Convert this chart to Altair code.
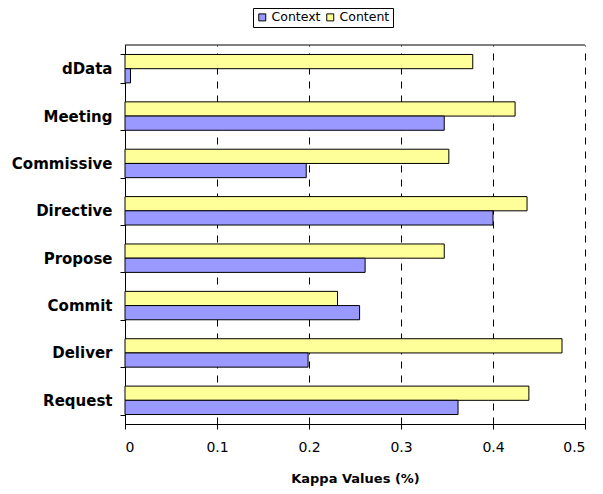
import altair as alt
import pandas as pd

categories = ["dData", "Meeting", "Commissive", "Directive", "Propose", "Commit", "Deliver", "Request"]
content = [0.378, 0.424, 0.352, 0.437, 0.347, 0.231, 0.475, 0.439]
context = [0.006, 0.347, 0.197, 0.400, 0.261, 0.255, 0.199, 0.362]
series_names = ["Context", "Content"]
series_colors = ["#9999FF", "#FFFF99"]
x_ticks = [0, 0.1, 0.2, 0.3, 0.4, 0.5]

rows = []
for c, v_content, v_context in zip(categories, content, context):
    rows.append({"category": c, "series": "Content", "value": v_content})
    rows.append({"category": c, "series": "Context", "value": v_context})
df = pd.DataFrame(rows)

W, H = 460, 379
FONT = "DejaVu Sans"

bars = alt.Chart(df).mark_bar(stroke="black", strokeWidth=1).encode(
    x=alt.X(
        "value:Q",
        scale=alt.Scale(domain=[0, 0.5], nice=False, zero=True),
        axis=alt.Axis(
            values=x_ticks,
            format=".1~f",
            title="Kappa Values (%)",
            grid=True,
            gridDash=[7, 7],
            gridColor="black",
            gridWidth=1,
            gridOpacity=1,
            labelFont=FONT,
            labelFontSize=14,
            labelColor="black",
            labelPadding=11,
            tickSize=5,
            tickColor="black",
            domainColor="black",
            titleFont=FONT,
            titleFontSize=13,
            titleFontWeight="bold",
            titleColor="black",
            titlePadding=18,
        ),
    ),
    y=alt.Y(
        "category:N",
        sort=categories,
        scale=alt.Scale(paddingInner=0.4, paddingOuter=0.2),
        axis=alt.Axis(
            title=None,
            tickBand="extent",
            grid=False,
            labelFont=FONT,
            labelFontSize=15,
            labelFontWeight="bold",
            labelColor="black",
            labelPadding=8,
            tickSize=5,
            tickColor="black",
            domainColor="black",
        ),
    ),
    yOffset=alt.YOffset(
        "series:N",
        sort=["Content", "Context"],
        scale=alt.Scale(paddingInner=0, paddingOuter=0),
    ),
    color=alt.Color(
        "series:N",
        scale=alt.Scale(domain=series_names, range=series_colors),
        legend=alt.Legend(
            title=None,
            orient="none",
            direction="horizontal",
            legendX=128,
            legendY=-37,
            strokeColor="black",
            padding=3,
            symbolType="square",
            symbolSize=49,
            symbolStrokeColor="black",
            symbolStrokeWidth=1,
            symbolOpacity=1,
            labelFont=FONT,
            labelFontSize=12.5,
            labelColor="black",
            columnPadding=3,
            labelOffset=3,
        ),
    ),
)

top_rule = alt.Chart(pd.DataFrame({"k": [0]})).mark_rule(color="black", strokeWidth=1).encode(
    x=alt.value(0), x2=alt.value(W), y=alt.value(0)
)

chart = alt.layer(bars, top_rule).properties(
    width=W,
    height=H,
    autosize=alt.AutoSizeParams(type="none"),
    padding={"left": 117, "top": 37, "right": 10, "bottom": 62},
).configure_view(stroke=None)

chart.save("out.html", embed_options={"renderer": "svg", "actions": False})
